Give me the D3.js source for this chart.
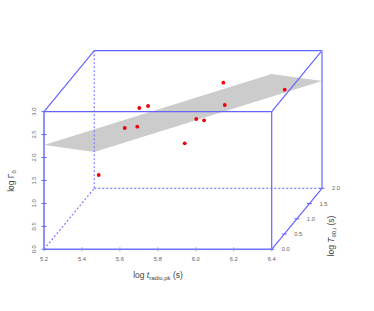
<!DOCTYPE html>
<html><head><meta charset="utf-8">
<script src="https://cdn.jsdelivr.net/npm/d3@7"></script>
<style>html,body{margin:0;padding:0;background:#fff}svg{display:block}text{font-family:"Liberation Sans",Arial,sans-serif}</style>
</head><body><svg id="c" width="374" height="311"></svg>
<script>
const xTicks=[5.2,5.4,5.6,5.8,6.0,6.2,6.4];
const yTicks=[0,0.5,1,1.5,2];
const zTicks=[0,0.5,1,1.5,2,2.5,3];
const ptX=[5.493,5.559,5.636,5.682,5.809,6.079,6.02,6.336,5.87,5.911,5.422];
const ptY=[1,1,0.5,0.5,1,0.5,1,1,1,1,0.5];
const ptZ=[1.978,2.006,2.746,2.79,1.645,3.297,2.479,2.813,2.174,2.146,1.286];
const planeX=[5.2,5.2,6.4,6.4];
const planeY=[0,2,2,0];
const planeZ=[2.27,0.79,2.34,3.82];
const blue="#6464ff";
const svg=d3.select("#c");
const sx=d3.scaleLinear().domain([5.2,6.4]).range([44,271.7]);
const sz=d3.scaleLinear().domain([0,3]).range([249.3,111.6]);
const dxS=d3.scaleLinear().domain([0,2]).range([0,50.3]);
const dyS=d3.scaleLinear().domain([0,2]).range([0,-61]);
const px=(x,y)=>sx(x)+dxS(y), py=(y,z)=>sz(z)+dyS(y);
const P=(x,y,z)=>[px(x,y),py(y,z)];
const line=(a,b,o={})=>svg.append("line").attr("x1",a[0]).attr("y1",a[1]).attr("x2",b[0]).attr("y2",b[1])
  .attr("stroke",o.c||blue).attr("stroke-width",o.w||1.2).attr("stroke-dasharray",o.d||null);
// hidden edges
const d="2 2", dc="#7c7cff";
line(P(5.2,0,0),P(5.2,2,0),{d,c:dc});
line(P(5.2,2,0),P(6.4,2,0),{d,c:dc});
// plane
svg.append("polygon").attr("points",planeX.map((x,i)=>P(x,planeY[i],planeZ[i]).join(",")).join(" ")).attr("fill","#cccccc");
line(P(5.2,2,0),P(5.2,2,3),{d,c:dc});
// box
line(P(5.2,0,3),P(6.4,0,3));
line(P(5.2,2,3),P(6.4,2,3));
line(P(5.2,0,3),P(5.2,2,3));
line(P(6.4,0,3),P(6.4,2,3));
line(P(6.4,0,0),P(6.4,0,3));
line(P(6.4,2,0),P(6.4,2,3),{w:2,c:"#a4a4ff"});
line(P(5.2,0,0),P(5.2,0,3),{w:1.8,c:"#8484ff"});
line(P(5.2,0,0),P(6.4,0,0),{w:1.4,c:"#7070ff"});
line(P(6.4,0,0),P(6.4,2,0));
// ticks
xTicks.forEach(t=>{line([px(t,0),sz(0)-2],[px(t,0),sz(0)+2],{w:1,c:"#9494ff"});
 svg.append("text").attr("x",px(t,0)).attr("y",sz(0)+12).attr("text-anchor","middle").attr("font-size",5.8).attr("fill","#666").text(d3.format(".1f")(t));});
zTicks.forEach(t=>{line([44-2.5,sz(t)],[44+2.5,sz(t)],{w:1});
 svg.append("text").attr("transform",`translate(36,${sz(t)}) rotate(-90)`).attr("text-anchor","middle").attr("font-size",5.8).attr("fill","#666").text(d3.format(".1f")(t));});
yTicks.forEach(t=>{const p=P(6.4,t,0);line([p[0]-2.5,p[1]],[p[0]+2.5,p[1]],{w:1});
 svg.append("text").attr("x",p[0]+10).attr("y",p[1]+2).attr("font-size",5.8).attr("fill","#666").text(d3.format(".1f")(t));});
// points
svg.selectAll("circle.pt").data(ptX).join("circle").attr("class","pt")
 .attr("cx",(x,i)=>px(x,ptY[i])).attr("cy",(x,i)=>py(ptY[i],ptZ[i])).attr("r",1.9).attr("fill","#f00008");
// axis titles
const t1=svg.append("text").attr("x",158).attr("y",278).attr("text-anchor","middle").attr("font-size",8.5).attr("fill","#444");
t1.append("tspan").text("log ");t1.append("tspan").attr("font-style","italic").text("t");
t1.append("tspan").attr("dy",2).attr("font-size",6).text("radio,pk");t1.append("tspan").attr("dy",-2).text(" (s)");
const t2=svg.append("text").attr("transform","translate(14,181) rotate(-90)").attr("text-anchor","middle").attr("font-size",8.5).attr("fill","#444");
t2.append("tspan").text("log Γ");t2.append("tspan").attr("dy",2).attr("font-size",6).text("0");
const t3=svg.append("text").attr("transform","translate(334,236) rotate(-90)").attr("text-anchor","middle").attr("font-size",8.5).attr("fill","#444");
t3.append("tspan").text("log ");t3.append("tspan").attr("font-style","italic").text("T");
t3.append("tspan").attr("dy",2).attr("font-size",6).text("90,i");t3.append("tspan").attr("dy",-2).text(" (s)");
</script></body></html>
